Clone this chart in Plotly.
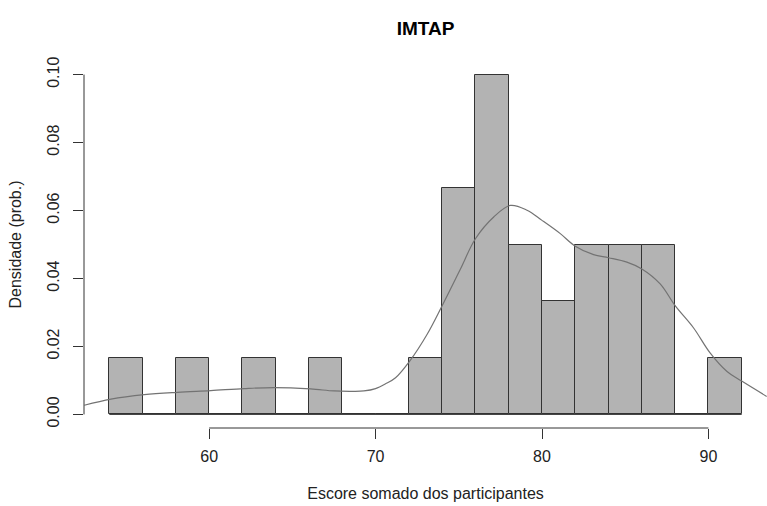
import plotly.graph_objects as go

# ---- data ----
bin_edges = [54, 56, 58, 60, 62, 64, 66, 68, 70, 72, 74, 76, 78, 80, 82, 84, 86, 88, 90, 92]
counts = [1, 0, 1, 0, 1, 0, 1, 0, 0, 1, 4, 6, 3, 2, 3, 3, 3, 0, 1]
n_total = 30

kde_x = [52.5, 54.1, 56.1, 58.1, 60.1, 62.1, 63.9, 66.1, 67.5, 68.6, 69.3, 70.0, 70.6, 71.2,
         72.05, 73.1, 74.0, 75.1, 76.0, 77.1, 78.1, 79.1, 80.0, 81.1, 82.0, 83.1, 84.0,
         85.1, 86.0, 87.1, 88.0, 89.1, 90.1, 91.1, 92.0, 93.5]
kde_y = [0.0027, 0.0045, 0.0058, 0.0065, 0.0070, 0.0076, 0.0079, 0.0075, 0.0069, 0.0068,
         0.0069, 0.0076, 0.0090, 0.0108, 0.0157, 0.0236, 0.0320, 0.0428, 0.0517, 0.0581,
         0.0615, 0.0601, 0.0571, 0.0532, 0.0495, 0.0470, 0.0461, 0.0448, 0.0428, 0.0384,
         0.0320, 0.0255, 0.0181, 0.0127, 0.0098, 0.0053]

x_ticks = [60, 70, 80, 90]
y_ticks = [0.00, 0.02, 0.04, 0.06, 0.08, 0.10]
y_tick_labels = ["0.00", "0.02", "0.04", "0.06", "0.08", "0.10"]

title = "IMTAP"
x_title = "Escore somado dos participantes"
y_title = "Densidade (prob.)"

# ---- derived ----
widths = [bin_edges[i + 1] - bin_edges[i] for i in range(len(counts))]
centers = [(bin_edges[i] + bin_edges[i + 1]) / 2 for i in range(len(counts))]
density = [c / (n_total * w) for c, w in zip(counts, widths)]

xspan = bin_edges[-1] - bin_edges[0]
x_range = [bin_edges[0] - 0.04 * xspan, bin_edges[-1] + 0.04 * xspan]
yspan = max(y_ticks) - min(y_ticks)
y_range = [min(y_ticks) - 0.04 * yspan, max(y_ticks) + 0.04 * yspan]

axis_col = "#333333"
font = "Liberation Sans, Arial, sans-serif"

fig = go.Figure()
fig.add_trace(go.Bar(
    x=centers, y=density, width=widths,
    marker=dict(color="#B3B3B3", line=dict(color=axis_col, width=1)),
    showlegend=False, hoverinfo="x+y",
))
fig.add_trace(go.Scatter(
    x=kde_x, y=kde_y, mode="lines", line=dict(color="#737373", width=1.2, shape="spline"),
    showlegend=False,
))

shapes = [
    # baseline under histogram
    dict(type="line", xref="x", yref="y", x0=bin_edges[0], x1=bin_edges[-1], y0=0, y1=0,
         line=dict(color=axis_col, width=1), layer="above"),
    # R-style x axis line
    dict(type="line", xref="x", yref="paper", x0=x_ticks[0], x1=x_ticks[-1], y0=0, y1=0,
         line=dict(color=axis_col, width=1)),
    # R-style y axis line
    dict(type="line", xref="paper", yref="y", x0=0, x1=0, y0=y_ticks[0], y1=y_ticks[-1],
         line=dict(color=axis_col, width=1)),
]

fig.update_layout(
    width=767, height=506,
    margin=dict(l=84, r=0, t=61, b=78),
    paper_bgcolor="white", plot_bgcolor="white",
    font=dict(family=font, size=16, color="#222222"),
    title=dict(text="<b>" + title + "</b>", x=0.5, xanchor="center",
               xref="paper", y=1 - 28 / 506, yanchor="middle",
               font=dict(size=19, color="#000000")),
    bargap=0,
    shapes=shapes,
    showlegend=False,
)
fig.update_xaxes(
    range=x_range, tickvals=x_ticks, ticks="outside", ticklen=10, tickcolor=axis_col,
    showgrid=False, zeroline=False, showline=False,
    title=dict(text=x_title, standoff=23, font=dict(size=16)),
    ticklabelstandoff=4,
)
fig.update_yaxes(
    range=y_range, tickvals=y_ticks, ticktext=y_tick_labels, tickangle=-90,
    ticks="outside", ticklen=10, tickcolor=axis_col,
    showgrid=False, zeroline=False, showline=False,
    ticklabelstandoff=8,
    title=dict(text=y_title, standoff=18, font=dict(size=16)),
)

fig.write_html("out.html")
